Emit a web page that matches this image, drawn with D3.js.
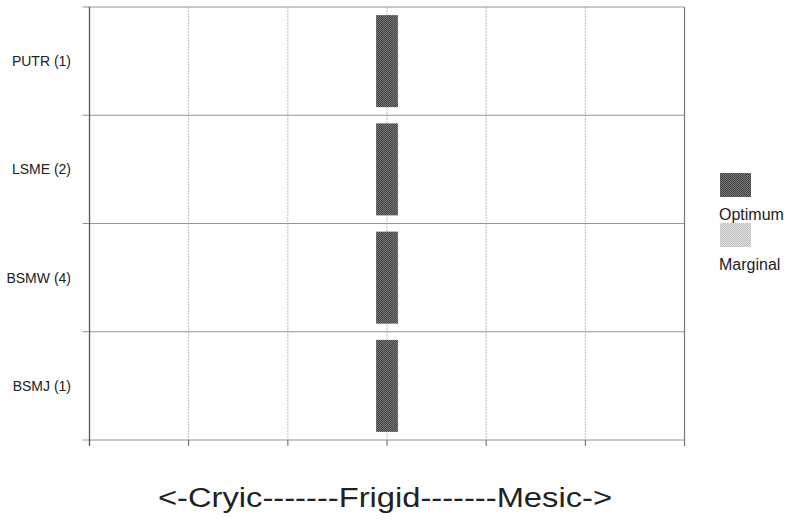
<!DOCTYPE html>
<html>
<head>
<meta charset="utf-8">
<script src="https://cdn.jsdelivr.net/npm/d3@7"></script>
<style>
  html, body { margin: 0; padding: 0; background: #fff; }
  svg { display: block; }
  text { font-family: "Liberation Sans", Arial, sans-serif; fill: #222; }
</style>
</head>
<body>
<script>
// Soil temperature regime suitability per vegetation type
const rowLabels = ["PUTR (1)", "LSME (2)", "BSMW (4)", "BSMJ (1)"];
const optimumStart = [2.89, 2.89, 2.89, 2.89];
const optimumEnd   = [3.11, 3.11, 3.11, 3.11];
const xTicks = [0, 1, 2, 3, 4, 5, 6];
const legendLabels = ["Optimum", "Marginal"];
const axisTitle = "<-Cryic-------Frigid-------Mesic->";

const W = 794, H = 520;
const plot = { left: 89.5, right: 684.5, top: 7, bottom: 440 };

const svg = d3.select("body").append("svg")
  .attr("width", W).attr("height", H);

// dithered fills
const defs = svg.append("defs");
function checker(id, a, b) {
  const p = defs.append("pattern").attr("id", id)
    .attr("width", 2).attr("height", 2).attr("patternUnits", "userSpaceOnUse");
  p.append("rect").attr("width", 2).attr("height", 2).attr("fill", a);
  p.append("rect").attr("width", 1).attr("height", 1).attr("fill", b);
  p.append("rect").attr("x", 1).attr("y", 1).attr("width", 1).attr("height", 1).attr("fill", b);
}
checker("optFill", "#444", "#767676");
checker("margFill", "#bdbdbd", "#e2e2e2");

const x = d3.scaleLinear().domain([0, 6]).range([plot.left, plot.right]);
const y = d3.scaleBand().domain(rowLabels)
  .range([plot.top, plot.bottom]).paddingInner(0.15).paddingOuter(0.075);
const step = y.step();
const rowEdges = d3.range(rowLabels.length + 1).map(i => plot.top + i * step);

// vertical grid (interior, dotted)
svg.append("g").selectAll("line")
  .data(xTicks.slice(1, -1)).join("line")
  .attr("x1", d => x(d)).attr("x2", d => x(d))
  .attr("y1", plot.top).attr("y2", plot.bottom)
  .attr("stroke", "#bcbcbc").attr("stroke-width", 1)
  .attr("stroke-dasharray", "2,1");

// horizontal row separators, extending left as ticks
svg.append("g").selectAll("line")
  .data(rowEdges).join("line")
  .attr("x1", plot.left - 7).attr("x2", plot.right)
  .attr("y1", d => d).attr("y2", d => d)
  .attr("stroke", "#939393").attr("stroke-width", 1);

// bottom ticks below the plot
svg.append("g").selectAll("line")
  .data(xTicks).join("line")
  .attr("x1", d => x(d)).attr("x2", d => x(d))
  .attr("y1", plot.bottom).attr("y2", plot.bottom + 6)
  .attr("stroke", "#666").attr("stroke-width", 1);

// left axis and right border
svg.append("line")
  .attr("x1", plot.left).attr("x2", plot.left)
  .attr("y1", plot.top).attr("y2", plot.bottom + 6)
  .attr("stroke", "#555").attr("stroke-width", 1.3);
svg.append("line")
  .attr("x1", plot.right).attr("x2", plot.right)
  .attr("y1", plot.top).attr("y2", plot.bottom + 6)
  .attr("stroke", "#777").attr("stroke-width", 1.2);

// optimum bars
svg.append("g").selectAll("rect")
  .data(rowLabels).join("rect")
  .attr("x", (d, i) => x(optimumStart[i]))
  .attr("width", (d, i) => x(optimumEnd[i]) - x(optimumStart[i]))
  .attr("y", d => y(d))
  .attr("height", y.bandwidth())
  .attr("fill", "url(#optFill)");

// row labels
svg.append("g").selectAll("text")
  .data(rowLabels).join("text")
  .attr("x", 71).attr("y", d => y(d) + y.bandwidth() / 2)
  .attr("dy", "0.35em").attr("text-anchor", "end")
  .attr("font-size", 14)
  .text(d => d);

// legend
const legend = svg.append("g").attr("transform", "translate(720,173)");
const fills = ["url(#optFill)", "url(#margFill)"];
legendLabels.forEach((lab, i) => {
  const g = legend.append("g").attr("transform", `translate(0,${i * 50})`);
  g.append("rect").attr("width", 31).attr("height", 24).attr("fill", fills[i]);
  g.append("text").attr("x", -1).attr("y", 47).attr("font-size", 16).text(lab);
});

// axis title
svg.append("text")
  .attr("x", 158).attr("y", 507)
  .attr("font-size", 27)
  .attr("textLength", 454).attr("lengthAdjust", "spacingAndGlyphs")
  .text(axisTitle);
</script>
</body>
</html>
